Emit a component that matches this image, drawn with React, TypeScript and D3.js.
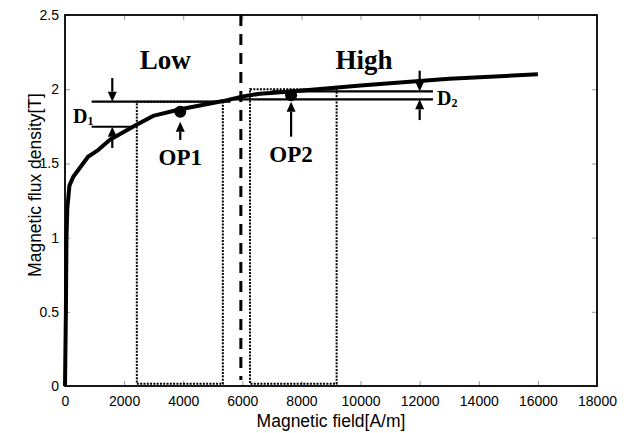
import React, { useEffect, useRef } from "react";
import * as d3 from "d3";

// B-H curve
const fieldH = [0, 30, 50, 80, 150, 280, 780, 1120, 1520, 2420, 2980, 3900, 5350, 5980, 6600, 7650, 10000, 13000, 16000];
const fluxB = [0, 0.5, 1.0, 1.2, 1.35, 1.41, 1.545, 1.59, 1.66, 1.76, 1.82, 1.865, 1.92, 1.95, 1.97, 1.985, 2.025, 2.07, 2.1];

const xTicks = [0, 2000, 4000, 6000, 8000, 10000, 12000, 14000, 16000, 18000];
const yTicks = [0, 0.5, 1, 1.5, 2, 2.5];

// operating points
const opNames = ["OP1", "OP2"];
const opH = [3900, 7650];
const opB = [1.848, 1.96];
const opArrowTail = [1.658, 1.68];
const opArrowTip = [1.78, 1.916];

// low / high regions
const regionNames = ["Low", "High"];
const regionH0 = [2430, 6260];
const regionH1 = [5340, 9190];
const regionTop = [1.916, 2.0];
const regionBottom = 0.015;
const regionLabelH = [3390, 10120];
const regionLabelB = 2.135;
const boundaryH = 5950;

// D1 / D2 gaps
const gapSub = ["1", "2"];
const gapArrowH = [1600, 12000];
const gapUpper = [1.916, 1.985];
const gapLower = [1.747, 1.932];
const gapUpperFrom = [900, 7000];
const gapUpperTo = [5600, 12450];
const gapLowerFrom = [900, 5600];
const gapLowerTo = [2300, 12450];
const gapDownTail = [2.075, 2.125];
const gapUpTail = [1.604, 1.792];
const gapLabelH = [270, 12585];
const gapLabelB = [1.772, 1.893];

const W = 631, H = 433;
const margin = { top: 15, right: 34, bottom: 47, left: 65 };
const serif = "'Liberation Serif', 'Times New Roman', serif";
const sans = "'Liberation Sans', Arial, sans-serif";

function App() {
  const ref = useRef<SVGSVGElement>(null);

  useEffect(() => {
    const svg = d3.select(ref.current);
    svg.selectAll("*").remove();
    const width = W - margin.left - margin.right;
    const height = H - margin.top - margin.bottom;

    const x = d3.scaleLinear().domain([0, 18000]).range([0, width]);
    const y = d3.scaleLinear().domain([0, 2.5]).range([height, 0]);

    const g = svg.append("g").attr("transform", `translate(${margin.left},${margin.top})`);

    // inward ticks on all four sides
    const tickStyle = (sel: any) => {
      sel.select(".domain").remove();
      sel.selectAll(".tick line").attr("stroke", "#999").attr("stroke-width", 1);
    };
    g.append("g").attr("transform", `translate(0,${height})`)
      .call(d3.axisBottom(x).tickValues(xTicks).tickSize(-5).tickPadding(10).tickFormat(d3.format("d")))
      .call(tickStyle)
      .selectAll("text").attr("font-family", sans).attr("font-size", 14).attr("fill", "#000");
    g.append("g")
      .call(d3.axisTop(x).tickValues(xTicks).tickSize(-5).tickFormat(() => ""))
      .call(tickStyle);
    g.append("g")
      .call(d3.axisLeft(y).tickValues(yTicks).tickSize(-5).tickPadding(6).tickFormat(d3.format("")))
      .call(tickStyle)
      .selectAll("text").attr("font-family", sans).attr("font-size", 14).attr("fill", "#000");
    g.append("g").attr("transform", `translate(${width},0)`)
      .call(d3.axisRight(y).tickValues(yTicks).tickSize(-5).tickFormat(() => ""))
      .call(tickStyle);

    // dotted region boxes
    regionNames.forEach((_, i) => {
      g.append("rect")
        .attr("x", x(regionH0[i])).attr("y", y(regionTop[i]))
        .attr("width", x(regionH1[i]) - x(regionH0[i]))
        .attr("height", y(regionBottom) - y(regionTop[i]))
        .attr("fill", "none").attr("stroke", "#000")
        .attr("stroke-width", 2).attr("stroke-dasharray", "2 1.3");
    });

    // boundary
    g.append("line")
      .attr("x1", x(boundaryH)).attr("x2", x(boundaryH))
      .attr("y1", y(2.5)).attr("y2", y(0.04))
      .attr("stroke", "#000").attr("stroke-width", 3).attr("stroke-dasharray", "11 8");

    // D lines
    gapSub.forEach((_, i) => {
      g.append("line").attr("x1", x(gapUpperFrom[i])).attr("x2", x(gapUpperTo[i]))
        .attr("y1", y(gapUpper[i])).attr("y2", y(gapUpper[i]))
        .attr("stroke", "#000").attr("stroke-width", 2.2);
      g.append("line").attr("x1", x(gapLowerFrom[i])).attr("x2", x(gapLowerTo[i]))
        .attr("y1", y(gapLower[i])).attr("y2", y(gapLower[i]))
        .attr("stroke", "#000").attr("stroke-width", 2.2);
    });

    // curve
    const pts = fieldH.map((h, i) => [h, fluxB[i]] as [number, number]);
    const line = d3.line<[number, number]>().x(d => x(d[0])).y(d => y(d[1]));
    g.append("path").attr("d", line(pts))
      .attr("fill", "none").attr("stroke", "#000").attr("stroke-width", 4)
      .attr("stroke-linejoin", "round");

    // frame
    g.append("rect").attr("width", width).attr("height", height)
      .attr("fill", "none").attr("stroke", "#000").attr("stroke-width", 1.8);

    const arrow = (hx: number, b0: number, b1: number) => {
      const px = x(hx), y0 = y(b0), y1 = y(b1);
      const dir = y1 > y0 ? 1 : -1;
      const head = 10;
      g.append("line").attr("x1", px).attr("x2", px)
        .attr("y1", y0).attr("y2", y1 - dir * head)
        .attr("stroke", "#000").attr("stroke-width", 2.2);
      g.append("path")
        .attr("d", `M${px},${y1} L${px - 4.5},${y1 - dir * head} L${px + 4.5},${y1 - dir * head} Z`)
        .attr("fill", "#000");
    };

    // D arrows + labels
    gapSub.forEach((s, i) => {
      arrow(gapArrowH[i], gapDownTail[i], gapUpper[i]);
      arrow(gapArrowH[i], gapUpTail[i], gapLower[i]);
      const t = g.append("text")
        .attr("x", x(gapLabelH[i])).attr("y", y(gapLabelB[i]))
        .attr("font-family", serif).attr("font-weight", "bold").attr("font-size", 20);
      t.append("tspan").text("D");
      t.append("tspan").attr("font-size", 12).attr("dy", 2).text(s);
    });

    // operating points
    opNames.forEach((n, i) => {
      g.append("circle").attr("cx", x(opH[i])).attr("cy", y(opB[i])).attr("r", 6).attr("fill", "#000");
      arrow(opH[i], opArrowTail[i], opArrowTip[i]);
      g.append("text")
        .attr("x", x(opH[i])).attr("y", y(opArrowTail[i]) + 25)
        .attr("text-anchor", "middle")
        .attr("font-family", serif).attr("font-weight", "bold").attr("font-size", 23)
        .text(n);
    });

    // region labels
    regionNames.forEach((n, i) => {
      g.append("text")
        .attr("x", x(regionLabelH[i])).attr("y", y(regionLabelB))
        .attr("text-anchor", "middle")
        .attr("font-family", serif).attr("font-weight", "bold").attr("font-size", 27)
        .text(n);
    });

    // axis titles
    svg.append("text")
      .attr("x", margin.left + width / 2).attr("y", 427)
      .attr("text-anchor", "middle")
      .attr("font-family", sans).attr("font-size", 17.5)
      .text("Magnetic field[A/m]");
    svg.append("text")
      .attr("transform", "translate(41,185) rotate(-90)")
      .attr("text-anchor", "middle")
      .attr("font-family", sans).attr("font-size", 17.5)
      .text("Magnetic flux density[T]");
  }, []);

  return (
    <svg ref={ref} width={W} height={H}
      style={{ position: "absolute", left: 0, top: 0, background: "#fff" }} />
  );
}

export default App;
